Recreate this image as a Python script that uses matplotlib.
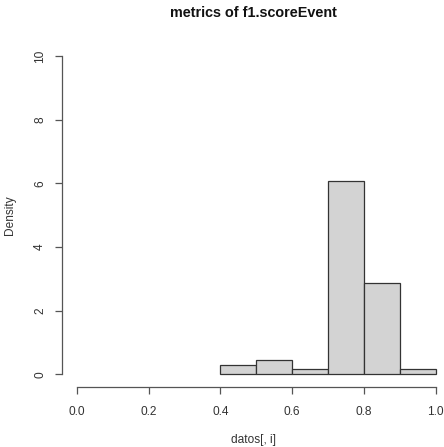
import numpy as np
import matplotlib.pyplot as plt

plt.rcParams['font.family'] = ['Liberation Sans', 'DejaVu Sans']

bin_edges = [0.4, 0.5, 0.6, 0.7, 0.8, 0.9, 1.0]   # histogram breaks
counts = [2, 3, 1, 40, 19, 1]                     # observations per bin
n_total = sum(counts)
widths = np.diff(bin_edges)
density = np.array(counts) / (n_total * widths)

W, H = 444, 447
fig = plt.figure(figsize=(W / 100, H / 100), dpi=100)
ax = fig.add_axes([62 / W, (H - 387) / H, (444 - 62) / W, (387 - 43.3) / H])

ax.bar(bin_edges[:-1], density, width=widths, align='edge',
       color='#d3d3d3', edgecolor='#333333', linewidth=0.9)

ax.set_xlim(-14.7 / 359, 1 + 8.3 / 359)
ax.set_ylim(-0.4, 10.4)

for s in ['top', 'right']:
    ax.spines[s].set_visible(False)
ax.spines['left'].set_bounds(0, 10)
ax.spines['bottom'].set_bounds(0, 1)
for s in ['left', 'bottom']:
    ax.spines[s].set_color('#555555')
    ax.spines[s].set_linewidth(0.9)

ax.set_xticks([0.0, 0.2, 0.4, 0.6, 0.8, 1.0])
ax.set_xticklabels(['0.0', '0.2', '0.4', '0.6', '0.8', '1.0'])
ax.set_yticks([0, 2, 4, 6, 8, 10])
ax.tick_params(axis='both', direction='out', length=5, width=0.9,
               color='#555555', labelsize=8.6, labelcolor='#333333')
ax.tick_params(axis='x', pad=8.5)
ax.tick_params(axis='y', pad=6.5)
for lbl in ax.get_yticklabels():
    lbl.set_rotation(90)
    lbl.set_va('center')

ax.set_xlabel('datos[, i]', fontsize=8.6, color='#333333', labelpad=12)
ax.set_ylabel('Density', fontsize=8.6, color='#333333', labelpad=13)
fig.text(0.5 + 31 / W, 1 - 13 / H, 'metrics of f1.scoreEvent', ha='center', va='center',
         fontsize=10.4, fontweight='bold', color='#111111')

plt.savefig('out.png', dpi=100)
